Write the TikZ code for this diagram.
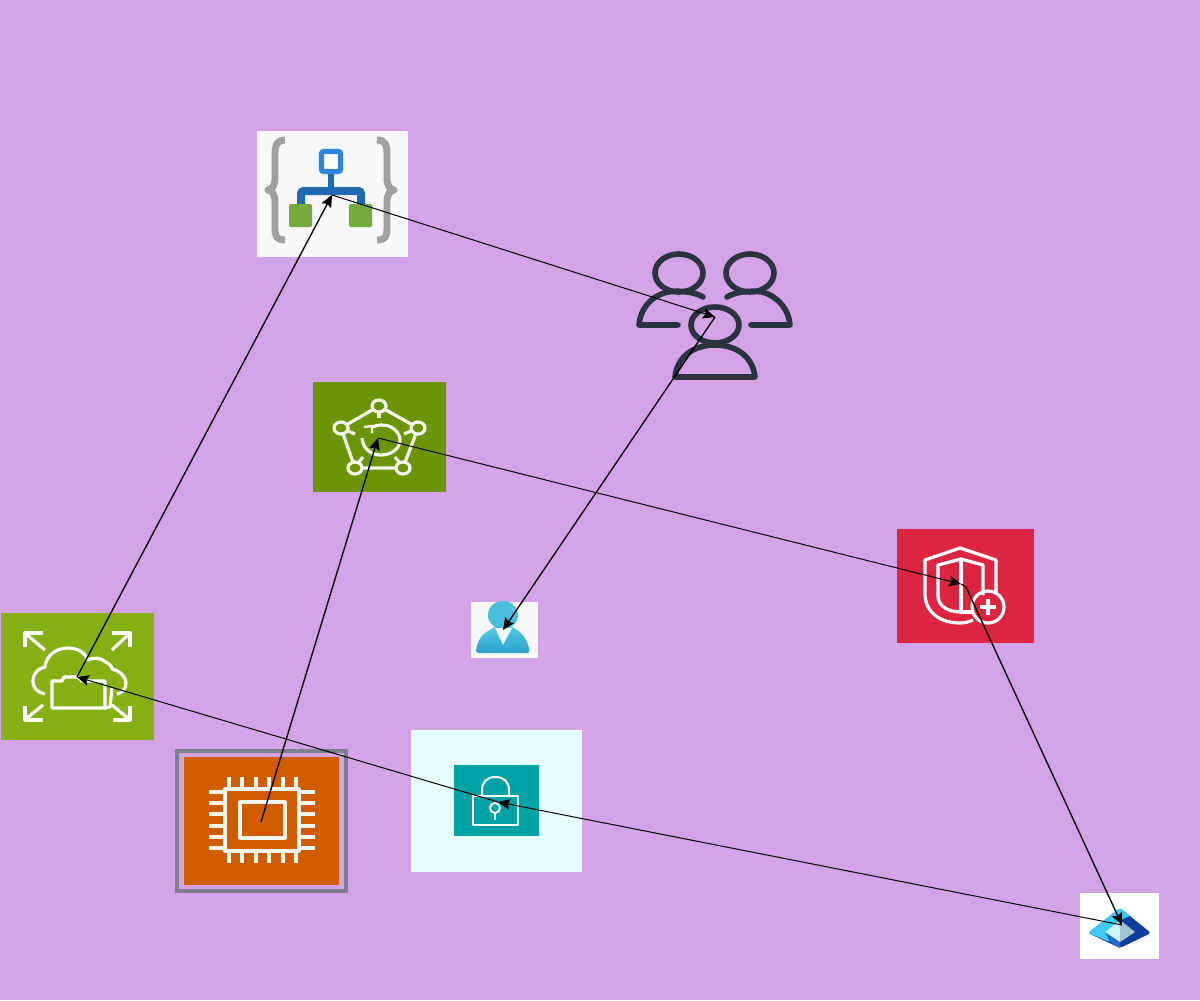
\documentclass[tikz,border=0pt]{standalone}
\usetikzlibrary{arrows.meta}
\definecolor{bgc}{RGB}{212,162,230}
\definecolor{usr}{RGB}{43,50,64}
\definecolor{bracec}{RGB}{160,160,160}
\definecolor{lblue}{RGB}{46,134,216}
\definecolor{dblue}{RGB}{31,105,175}
\definecolor{lgreen}{RGB}{118,170,62}
\definecolor{gbox}{RGB}{107,149,7}
\definecolor{redbox}{RGB}{221,36,64}
\definecolor{cbox}{RGB}{134,176,17}
\definecolor{obox}{RGB}{208,92,0}
\definecolor{gframe}{RGB}{125,125,143}
\definecolor{lbox}{RGB}{230,254,255}
\definecolor{tbox}{RGB}{0,163,163}
\definecolor{persT}{RGB}{84,200,232}
\definecolor{persB}{RGB}{44,162,204}
\definecolor{cream}{RGB}{245,245,235}
\definecolor{dmA}{RGB}{15,62,156}
\definecolor{dmB}{RGB}{60,203,244}
\definecolor{dmC}{RGB}{30,111,208}
\definecolor{dmD}{RGB}{201,244,255}
\definecolor{dmE}{RGB}{160,196,212}
\tikzset{
  x=0.75pt,y=-0.75pt,
  link/.style={black,line width=0.75pt,-{Stealth[length=9pt,width=8pt,inset=1.5pt]}},
  thick link/.style={link,line width=1pt},
  plain link/.style={black,line width=0.75pt},
  ico/.style={draw=white,line width=2.4pt,line join=round},
  icc/.style={draw=cream,line width=2.4pt,line join=round},
  thin ico/.style={draw=white,line width=1.5pt,line join=round},
  usr line/.style={draw=usr,line width=4.2pt,line cap=round,line join=round},
  brace line/.style={draw=bracec,line width=5.2pt,line join=round}
}
\newcommand{\rbox}[6]{\node[draw=none,fill=#6,inner sep=0pt,outer sep=0pt,minimum width=#4*0.75pt,minimum height=#5*0.75pt,anchor=north west] (#1) at (#2,#3) {};}
\begin{document}
\begin{tikzpicture}
\useasboundingbox (0,0) rectangle (1200,1000);
\fill[bgc] (0,0) rectangle (1200,1000);

% boxes
\rbox{logic}{257}{131}{151}{126}{white!97!black}
\rbox{green}{313}{382}{133}{110}{gbox}
\rbox{shield}{897}{529}{137}{114}{redbox}
\rbox{cloud}{1}{613}{153}{127}{cbox}
\rbox{lock}{411}{730}{171}{142}{lbox}
\rbox{person}{471}{602}{67}{56}{white!97!black}
\rbox{diamond}{1080}{893}{79}{66}{white}

% logic app icon
\draw[brace line] (285,140) .. controls (276,140) and (275,146) .. (275,154) -- (275,178) .. controls (275,186) and (272,189) .. (268,190) .. controls (272,191) and (275,194) .. (275,202) -- (275,228) .. controls (275,236) and (276,240) .. (285,240);
\draw[brace line] (377,140) .. controls (386,140) and (387,146) .. (387,154) -- (387,178) .. controls (387,186) and (390,189) .. (394,190) .. controls (390,191) and (387,194) .. (387,202) -- (387,228) .. controls (387,236) and (386,240) .. (377,240);
\draw[dblue,line width=4.5pt] (331,174) -- (331,191);
\draw[dblue,line width=6pt,rounded corners=2pt] (301,206) -- (301,191) -- (361,191) -- (361,206);
\draw[lblue,fill=white,line width=3.8pt,rounded corners=1.5pt] (321.5,151.5) rectangle (340.5,171.5);
\fill[lgreen,rounded corners=1pt] (289,204) rectangle (312,227);
\fill[lgreen,rounded corners=1pt] (349,204) rectangle (372,227);

% users icon
\draw[usr line] (679,273) ellipse (24 and 19);
\draw[usr line] (750,273) ellipse (24 and 19);
\draw[usr line] (715,325) ellipse (24 and 18);
\draw[usr line] (703,297) .. controls (695,292) and (680,290) .. (668,292) .. controls (650,296) and (640,310) .. (639,325) -- (678,325);
\draw[usr line] (727,297) .. controls (735,292) and (750,290) .. (762,292) .. controls (778,296) and (789,310) .. (790,325) -- (751,325);
\draw[usr line] (675,377) -- (755,377) .. controls (753,358) and (738,345) .. (715,345) .. controls (692,345) and (677,358) .. (675,377);

% green refresh icon
\coordinate (p1) at (379,406);
\coordinate (p2) at (418,428);
\coordinate (p3) at (403,468);
\coordinate (p4) at (355,468);
\coordinate (p5) at (341,428);
\draw[icc] (p1) -- (p2) -- (p3) -- (p4) -- (p5) -- cycle;
\draw[icc,fill=gbox] (p1) ellipse (7 and 6);
\draw[icc,fill=gbox] (p2) ellipse (7 and 6);
\draw[icc,fill=gbox] (p3) ellipse (7 and 6);
\draw[icc,fill=gbox] (p4) ellipse (7 and 6);
\draw[icc,fill=gbox] (p5) ellipse (7 and 6);
\draw[icc] (379,412) -- (379,418);
\draw[icc] (348,431) -- (355,434);
\draw[icc] (411,431) -- (404,434);
\draw[icc] (359,462) -- (363,457);
\draw[icc] (399,462) -- (395,457);
\draw[icc] (372,427) .. controls (375,426) and (378,425) .. (382,425) .. controls (392,425) and (400,432) .. (400,440) .. controls (400,449) and (391,455) .. (381,455) .. controls (371,455) and (363,449) .. (362,438);
\draw[icc,line width=1.8pt] (372,433) -- (372,426) -- (364,427);

% shield icon
\draw[ico] (973,620) .. controls (968,622) and (965,623) .. (960,623) .. controls (940,623) and (925,612) .. (925,594) -- (925,560) -- (960,548) -- (996,560) -- (996,592);
\draw[ico] (961,612) .. controls (948,612) and (938,606) .. (938,596) -- (938,565) -- (961,559) -- (983,565) -- (983,595);
\draw[ico] (961,559) -- (961,612) -- (972,612);
\draw[ico] (988,607) circle (16);
\draw[ico] (980,607) -- (996,607);
\draw[ico] (988,599) -- (988,615);

% cloud icon
\draw[ico] (45,694) .. controls (36,692) and (33,687) .. (33,681) .. controls (33,673) and (39,668) .. (45,667) .. controls (46,655) and (57,648) .. (68,648) .. controls (78,648) and (85,653) .. (88,660) .. controls (94,657) and (101,658) .. (104,661) .. controls (110,664) and (112,667) .. (112,669) .. controls (120,671) and (126,677) .. (126,683) .. controls (126,689) and (122,693) .. (117,694);
\draw[ico,fill=cbox] (52,708) -- (52,681) -- (62,681) -- (64,677) -- (78,677) -- (82,681) -- (105,681) -- (105,708) -- cycle;
\draw[ico] (105,708) -- (110,707) -- (112,688);
\draw[ico] (45,650) -- (26,634);
\draw[ico] (25,647) -- (25,633) -- (43,633);
\draw[ico] (112,650) -- (129,634);
\draw[ico] (112,633) -- (130,633) -- (130,647);
\draw[ico] (43,705) -- (26,719);
\draw[ico] (25,706) -- (25,720) -- (43,720);
\draw[ico] (112,705) -- (129,719);
\draw[ico] (130,706) -- (130,720) -- (113,720);

% cpu icon
\draw[gframe,line width=3pt] (177,751) rectangle (346,891);
\node[draw=none,fill=obox,inner sep=0pt,outer sep=0pt,minimum width=155*0.75pt,minimum height=128*0.75pt,anchor=north west] (cpu) at (184,757) {};
\draw[icc] (225,789) rectangle (299,851);
\draw[icc] (240,802) rectangle (285,838);
\foreach \px in {229,242,256,269,283,296}{
  \draw[icc] (\px,777) -- (\px,789);
  \draw[icc] (\px,851) -- (\px,863);
}
\foreach \py in {792,803,814,826,837,848}{
  \draw[icc] (209,\py) -- (225,\py);
  \draw[icc] (299,\py) -- (315,\py);
}

% lock icon
\fill[tbox] (454,765) rectangle (539,836);
\draw[thin ico] (473,796) rectangle (518,825);
\draw[thin ico] (482,796) -- (482,790) .. controls (482,782) and (487,777) .. (495.5,777) .. controls (504,777) and (509,782) .. (509,790) -- (509,796);
\draw[thin ico] (495,808) circle (5);
\draw[thin ico] (495,813) -- (495,820);

% person icon
\shade[top color=persT,bottom color=persB] (478,653) .. controls (475,653) and (476,648) .. (478,643) .. controls (481,634) and (488,631) .. (495,627) -- (512,627) .. controls (520,631) and (525,636) .. (528,645) .. controls (530,650) and (530,653) .. (527,653) -- cycle;
\fill[persT!70!persB] (503,615) ellipse (15 and 14);
\fill[white!90!persT] (495,628) -- (512,628) -- (503,645) -- cycle;

% diamond icon
\fill[dmA,rounded corners=2pt] (1088,933) -- (1120,908) -- (1151,933) -- (1120,948) -- cycle;
\fill[dmB,rounded corners=1pt] (1088,933) -- (1120,908) -- (1130,916) -- (1120,920) -- (1105,932) -- (1110,942) -- cycle;
\fill[dmC] (1110,942) -- (1105,932) -- (1120,942) -- (1120,948) -- cycle;
\fill[dmD] (1105,932) -- (1120,920) -- (1120,942) -- cycle;
\fill[dmE] (1120,920) -- (1135,932) -- (1120,942) -- cycle;

% connection points
\coordinate (hlogic) at (332,195);
\coordinate (husers) at (715,317);
\coordinate (hgreen) at (378,438);
\coordinate (hshield) at (961,584);
\coordinate (hbend) at (966,587);
\coordinate (hcloud) at (77,677);
\coordinate (hcpu) at (261,822);
\coordinate (hlock) at (498,802);
\coordinate (hperson) at (503,630);
\coordinate (hdiamond) at (1122,925);

% connectors
\draw[thick link] (hcloud) -- (hlogic);
\draw[link] (hlogic) -- (husers);
\draw[thick link] (husers) -- (hperson);
\draw[thick link] (hcpu) -- (hgreen);
\draw[link] (hgreen) -- (hshield);
\draw[thick link] (hbend) -- (hdiamond);
\draw[plain link] (hshield) -- (hbend);
\draw[link] (hdiamond) -- (hlock);
\draw[link] (hlock) -- (hcloud);
\end{tikzpicture}
\end{document}
